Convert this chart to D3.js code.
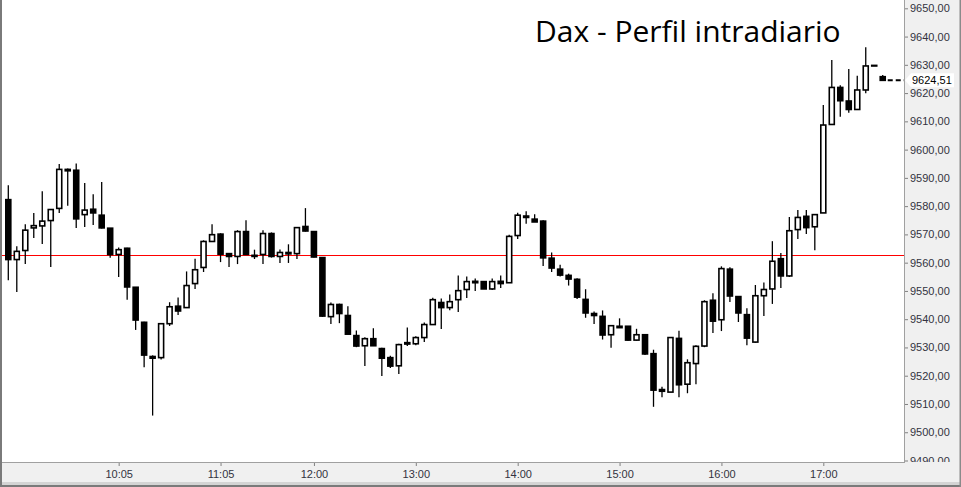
<!DOCTYPE html>
<html>
<head>
<meta charset="utf-8">
<script src="https://cdn.jsdelivr.net/npm/d3@7"></script>
<style>
  body { margin: 0; background: #ffffff; }
  svg { display: block; font-family: "Liberation Sans", Arial, sans-serif; }
</style>
</head>
<body>
<div id="chart"></div>
<script>
// Dax 5-minute candles
var startTime = "09:00";
var barMinutes = 5;

var opens = [9582.3, 9561.1, 9564.3, 9572.3, 9573.0, 9574.9, 9579.2, 9593.0, 9592.7, 9577.0,
  9578.9, 9576.8, 9572.2, 9562.9, 9565.1, 9551.3, 9538.9, 9526.8, 9526.4, 9538.4,
  9544.6, 9544.1, 9552.6, 9558.3, 9567.5, 9570.1, 9563.2, 9562.2, 9571.0, 9562.6,
  9562.9, 9570.3, 9562.2, 9563.6, 9563.2, 9572.8, 9571.0, 9561.8, 9540.9, 9545.2,
  9541.3, 9534.2, 9530.6, 9533.1, 9529.6, 9526.4, 9523.5, 9531.7, 9531.3, 9533.5,
  9538.1, 9545.9, 9544.1, 9546.9, 9550.5, 9553.4, 9553.3, 9550.7, 9553.4, 9552.9,
  9569.6, 9576.5, 9575.4, 9574.7, 9561.6, 9557.7, 9555.5, 9554.1, 9547.0, 9542.0,
  9541.0, 9534.5, 9537.5, 9537.5, 9532.6, 9534.5, 9527.8, 9515.1, 9514.2, 9533.2,
  9517.0, 9524.3, 9530.5, 9546.7, 9539.8, 9557.7, 9548.0, 9541.6, 9531.9, 9548.3,
  9550.7, 9561.4, 9555.3, 9571.7, 9576.4, 9572.7, 9577.6, 9608.9, 9622.0, 9617.2,
  9614.2, 9621.1, 9629.8, 9625.8];
var highs = [9587.4, 9565.8, 9573.6, 9577.6, 9585.3, 9578.8, 9594.9, 9593.3, 9595.1, 9588.2,
  9584.2, 9588.5, 9572.2, 9565.4, 9565.3, 9551.3, 9539.1, 9527.2, 9538.4, 9546.0,
  9547.7, 9556.9, 9561.4, 9567.9, 9573.6, 9570.4, 9563.2, 9571.5, 9575.0, 9564.6,
  9571.5, 9570.7, 9564.7, 9566.5, 9572.4, 9579.3, 9571.0, 9562.0, 9545.9, 9545.5,
  9544.6, 9536.0, 9533.6, 9536.8, 9529.9, 9527.1, 9531.3, 9537.1, 9534.0, 9538.8,
  9547.6, 9547.3, 9548.7, 9555.5, 9555.1, 9554.4, 9553.3, 9554.4, 9555.5, 9569.9,
  9577.7, 9578.2, 9577.1, 9575.0, 9563.6, 9559.3, 9556.1, 9554.5, 9550.6, 9542.7,
  9543.1, 9537.7, 9540.3, 9537.5, 9536.6, 9534.5, 9529.2, 9516.1, 9533.5, 9535.9,
  9525.8, 9530.8, 9546.7, 9549.2, 9558.7, 9558.4, 9548.0, 9543.9, 9552.1, 9553.0,
  9567.6, 9563.4, 9576.2, 9578.6, 9578.6, 9577.1, 9615.8, 9631.7, 9622.8, 9628.5,
  9626.1, 9636.2, 9629.8, 9626.4];
var lows = [9553.8, 9549.6, 9559.5, 9568.7, 9566.6, 9558.5, 9577.6, 9580.1, 9572.3, 9572.6,
  9573.3, 9572.1, 9561.7, 9554.9, 9546.9, 9536.2, 9523.0, 9505.9, 9525.7, 9537.6,
  9541.5, 9544.1, 9550.7, 9556.7, 9567.5, 9560.2, 9558.5, 9559.5, 9562.9, 9561.3,
  9559.5, 9561.8, 9559.9, 9559.9, 9561.3, 9571.0, 9561.8, 9540.8, 9538.3, 9538.6,
  9534.7, 9530.1, 9523.4, 9530.6, 9519.9, 9522.7, 9520.6, 9530.5, 9530.8, 9531.9,
  9538.1, 9536.5, 9543.2, 9542.5, 9547.5, 9550.0, 9550.7, 9550.3, 9551.0, 9552.9,
  9568.4, 9573.8, 9574.4, 9558.8, 9556.7, 9555.1, 9551.9, 9547.1, 9540.5, 9538.3,
  9532.8, 9529.9, 9537.0, 9532.4, 9532.4, 9527.3, 9509.0, 9512.4, 9514.2, 9512.4,
  9513.8, 9517.0, 9530.1, 9535.1, 9535.8, 9546.1, 9539.0, 9530.8, 9531.7, 9541.1,
  9545.4, 9551.0, 9554.9, 9568.4, 9570.1, 9564.4, 9577.6, 9608.9, 9611.6, 9613.0,
  9614.2, 9619.9, 9629.8, 9624.5];
var closes = [9561.1, 9564.0, 9571.5, 9573.1, 9574.7, 9578.8, 9593.0, 9592.5, 9575.5, 9578.6,
  9577.6, 9572.3, 9562.9, 9564.6, 9551.4, 9539.7, 9527.3, 9526.2, 9538.4, 9544.4,
  9542.9, 9551.9, 9557.5, 9567.5, 9569.9, 9563.0, 9562.2, 9571.0, 9562.9, 9562.2,
  9570.3, 9562.2, 9563.6, 9563.1, 9572.4, 9571.2, 9562.0, 9541.1, 9545.2, 9542.0,
  9534.7, 9530.5, 9533.1, 9530.6, 9526.2, 9523.4, 9531.0, 9531.2, 9533.5, 9538.1,
  9546.9, 9544.1, 9546.2, 9550.1, 9553.3, 9552.9, 9550.7, 9553.3, 9552.6, 9569.3,
  9576.8, 9576.0, 9574.4, 9561.7, 9558.1, 9555.6, 9554.2, 9547.8, 9542.2, 9541.3,
  9534.4, 9537.7, 9537.0, 9532.6, 9534.5, 9527.7, 9514.9, 9514.5, 9533.5, 9516.8,
  9524.6, 9530.4, 9546.2, 9539.3, 9557.9, 9548.2, 9542.2, 9533.3, 9548.3, 9550.5,
  9560.5, 9555.3, 9571.3, 9576.0, 9572.4, 9577.0, 9608.7, 9622.0, 9617.3, 9614.2,
  9621.1, 9629.6, 9629.8, 9624.51];

var prevClose = 9562.7;
var lastPrice = 9624.51;

var yTickValues = [9490, 9500, 9510, 9520, 9530, 9540, 9550, 9560, 9570, 9580,
  9590, 9600, 9610, 9620, 9630, 9640, 9650];
var xTickLabels = ["10:05", "11:05", "12:00", "13:00", "14:00", "15:00", "16:00", "17:00"];
var chartTitle = "Dax - Perfil intradiario";

// svg and plot area
var svgWidth = 961;
var svgHeight = 487;
var plotRight = 904;
var plotBottom = 462;

var svg = d3.select("#chart").append("svg")
  .attr("width", svgWidth)
  .attr("height", svgHeight);

// axis panel background
svg.append("rect")
  .attr("x", 0).attr("y", 0)
  .attr("width", svgWidth).attr("height", svgHeight)
  .attr("fill", "#f0f0f0");

// white plot area
svg.append("rect")
  .attr("x", 0).attr("y", 0)
  .attr("width", plotRight).attr("height", plotBottom)
  .attr("fill", "#ffffff");

// scales
var parseTime = d3.timeParse("%H:%M");
var t0 = parseTime(startTime);

var xScale = d3.scaleTime()
  .domain([parseTime("09:00"), parseTime("17:00")])
  .range([8.3, 823.3]);

var yScale = d3.scaleLinear()
  .domain([9490, 9650])
  .range([460.5, 8.3]);

var candles = opens.map(function (o, i) {
  return {
    time: d3.timeMinute.offset(t0, i * barMinutes),
    open: o, high: highs[i], low: lows[i], close: closes[i]
  };
});

// previous close (red line)
var yPrev = Math.round(yScale(prevClose)) + 0.5;
svg.append("line")
  .attr("x1", 0).attr("x2", plotRight)
  .attr("y1", yPrev)
  .attr("y2", yPrev)
  .style("stroke", "rgb(255, 0, 0)")
  .style("stroke-width", "1px")
  .style("shape-rendering", "crispEdges");

// candles
var bodyWidth = 5;
var candleGroup = svg.append("g");

candleGroup.selectAll("line.wick").data(candles).enter()
  .append("line")
  .attr("class", "wick")
  .attr("x1", d => xScale(d.time))
  .attr("x2", d => xScale(d.time))
  .attr("y1", d => yScale(d.high))
  .attr("y2", d => yScale(d.low))
  .attr("stroke", "#000")
  .attr("stroke-width", 1.3);

candleGroup.selectAll("rect.body").data(candles).enter()
  .append("rect")
  .attr("class", "body")
  .attr("x", d => xScale(d.time) - bodyWidth / 2)
  .attr("width", bodyWidth)
  .attr("y", d => yScale(Math.max(d.open, d.close)))
  .attr("height", d => Math.max(0.6, Math.abs(yScale(d.open) - yScale(d.close))))
  .attr("fill", d => d.close > d.open ? "#ffffff" : "#000000")
  .attr("stroke", "#000")
  .attr("stroke-width", 1.6);

// last price dashes
var yLast = yScale(lastPrice);
svg.append("line")
  .attr("x1", xScale(candles[candles.length - 1].time) + 5)
  .attr("x2", plotRight)
  .attr("y1", yLast).attr("y2", yLast)
  .attr("stroke", "#000")
  .attr("stroke-width", 2)
  .attr("stroke-dasharray", "5,3");

// frame lines
svg.append("line")
  .attr("x1", plotRight + 0.5).attr("x2", plotRight + 0.5)
  .attr("y1", 0).attr("y2", plotBottom + 1)
  .attr("stroke", "#a0a0a0");
svg.append("line")
  .attr("x1", 0).attr("x2", plotRight + 1)
  .attr("y1", plotBottom + 0.5).attr("y2", plotBottom + 0.5)
  .attr("stroke", "#a0a0a0");

// y axis on the right
var locale = d3.formatLocale({ decimal: ",", thousands: "", grouping: [3], currency: ["", ""] });
var fmt = locale.format(".2f");

// clip box is in the axis group's own (translated) coordinates
svg.append("clipPath").attr("id", "yclip")
  .append("rect")
  .attr("x", -2).attr("y", 0)
  .attr("width", svgWidth - plotRight).attr("height", plotBottom);

var yAxis = d3.axisRight(yScale)
  .tickValues(yTickValues)
  .tickFormat(fmt)
  .tickSize(3)
  .tickPadding(2);

var yAxisG = svg.append("g")
  .attr("transform", `translate(${plotRight + 1}, 0)`)
  .attr("clip-path", "url(#yclip)")
  .call(yAxis);
yAxisG.select(".domain").remove();
yAxisG.selectAll("line").attr("stroke", "#808080");
yAxisG.selectAll("text")
  .attr("fill", "#333340")
  .style("font-size", "11px")
  .style("font-family", "'Liberation Sans', Arial, sans-serif");

// x axis
var xAxis = d3.axisBottom(xScale)
  .tickValues(xTickLabels.map(parseTime))
  .tickFormat(d3.timeFormat("%H:%M"))
  .tickSize(3)
  .tickPadding(4);

var xAxisG = svg.append("g")
  .attr("transform", `translate(0, ${plotBottom + 1})`)
  .call(xAxis);
xAxisG.select(".domain").remove();
xAxisG.selectAll("line").attr("stroke", "#808080");
xAxisG.selectAll("text")
  .attr("fill", "#333340")
  .style("font-size", "11px")
  .style("font-family", "'Liberation Sans', Arial, sans-serif");

// last price label
var labelG = svg.append("g");
labelG.append("path")
  .attr("d", `M${plotRight + 1},${yLast} L${plotRight + 7},${yLast - 7} L${plotRight + 50},${yLast - 7} L${plotRight + 50},${yLast + 7} L${plotRight + 7},${yLast + 7} Z`)
  .attr("fill", "#ffffff");
labelG.append("text")
  .attr("x", plotRight + 8)
  .attr("y", yLast)
  .attr("dy", "0.35em")
  .style("font-size", "11px")
  .attr("fill", "#000")
  .text(fmt(lastPrice));

// bottom strips and borders
svg.append("rect")
  .attr("x", 0).attr("y", 482)
  .attr("width", svgWidth).attr("height", 3)
  .attr("fill", "#d4d4d4");
svg.append("rect")
  .attr("x", 0).attr("y", 485)
  .attr("width", svgWidth).attr("height", 2)
  .attr("fill", "#7a7a7a");
svg.append("rect")
  .attr("x", 0).attr("y", 0)
  .attr("width", 2).attr("height", svgHeight)
  .attr("fill", "#7a7a7a");
svg.append("rect")
  .attr("x", svgWidth - 1.5).attr("y", 0)
  .attr("width", 1.5).attr("height", svgHeight)
  .attr("fill", "#8a8a8a");

// title
svg.append("text")
  .attr("x", 535)
  .attr("y", 42)
  .style("font-family", "'Open Sans', 'Liberation Sans', sans-serif")
  .style("font-size", "30px")
  .attr("fill", "#000")
  .text(chartTitle);
</script>
</body>
</html>
